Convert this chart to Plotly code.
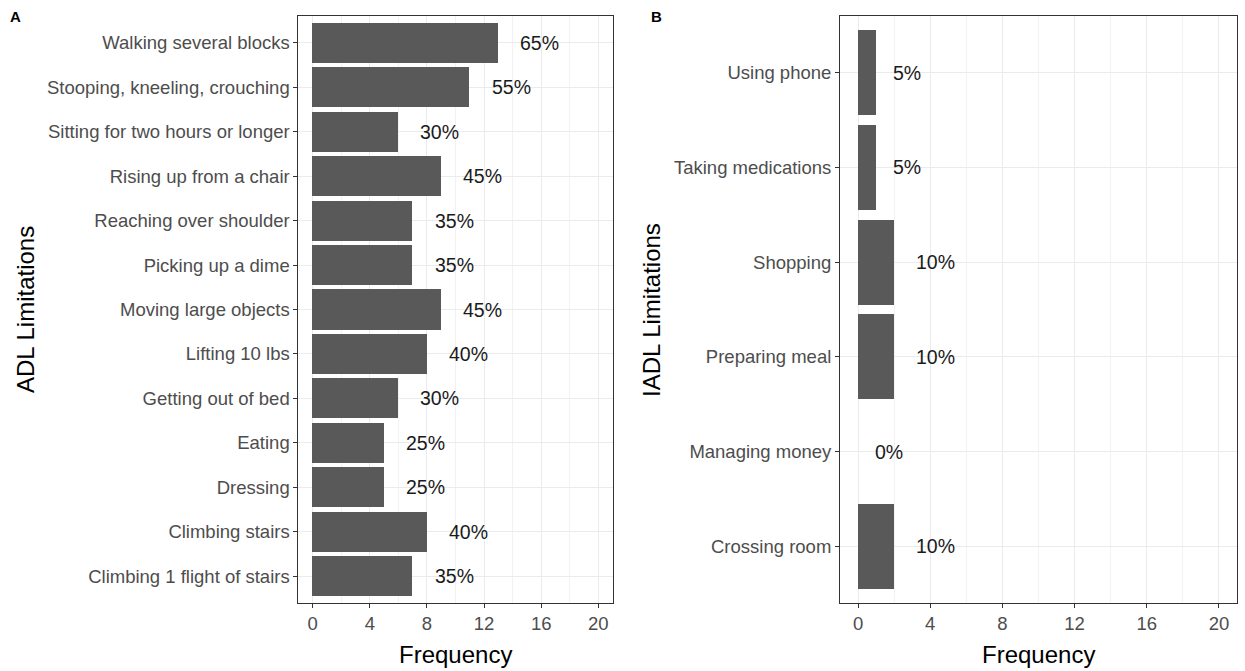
import plotly.graph_objects as go

W, H = 1245, 671

adl_categories = [
    "Climbing 1 flight of stairs", "Climbing stairs", "Dressing", "Eating",
    "Getting out of bed", "Lifting 10 lbs", "Moving large objects",
    "Picking up a dime", "Reaching over shoulder", "Rising up from a chair",
    "Sitting for two hours or longer", "Stooping, kneeling, crouching",
    "Walking several blocks",
]
adl_values = [7, 8, 5, 5, 6, 8, 9, 7, 7, 9, 6, 11, 13]

iadl_categories = [
    "Crossing room", "Managing money", "Preparing meal", "Shopping",
    "Taking medications", "Using phone",
]
iadl_values = [2, 0, 2, 2, 1, 1]

total_n = 20
x_ticks = [0, 4, 8, 12, 16, 20]

FONT = "Liberation Sans, Arial, sans-serif"
BAR = "#595959"
GRID = "#ebebeb"
BORDER = "#333333"

def xd(a, b):
    return [a / W, b / W]

def yd(top, bottom):
    return [1 - bottom / H, 1 - top / H]

fig = go.Figure()
fig.add_trace(go.Bar(x=adl_values, y=adl_categories, orientation="h",
                     marker=dict(color=BAR, line=dict(width=0)), width=0.9,
                     xaxis="x", yaxis="y", hoverinfo="x+y"))
fig.add_trace(go.Bar(x=iadl_values, y=iadl_categories, orientation="h",
                     marker=dict(color=BAR, line=dict(width=0)), width=0.9,
                     xaxis="x2", yaxis="y2", hoverinfo="x+y"))

annotations = []
for cats, vals, xr, yr in [(adl_categories, adl_values, "x", "y"),
                           (iadl_categories, iadl_values, "x2", "y2")]:
    for c, v in zip(cats, vals):
        txt = f"{round(v / total_n * 100)}%"
        shift = 20 if len(txt) >= 3 else 15
        annotations.append(dict(x=v, y=c, xref=xr, yref=yr, text=txt,
                                showarrow=False, xanchor="left", yanchor="middle",
                                xshift=shift, font=dict(family=FONT, size=19.5, color="#1a1a1a")))

TICKFONT = dict(family=FONT, size=18.5, color="#4d4d4d")

def xaxis_common(domain, anchor):
    return dict(domain=domain, anchor=anchor, range=[-1, 21],
                tickmode="array", tickvals=x_ticks, ticktext=[str(t) for t in x_ticks],
                showgrid=True, gridcolor=GRID, gridwidth=1,
                minor=dict(tickmode="array", tickvals=[2, 6, 10, 14, 18], showgrid=True,
                           gridcolor="#f2f2f2", gridwidth=0.6, ticks=""),
                zeroline=False, showline=True, linecolor=BORDER, linewidth=1, mirror=True,
                ticks="outside", ticklen=4, tickcolor=BORDER, tickwidth=1,
                tickfont=TICKFONT)

def yaxis_common(domain, anchor, cats):
    return dict(domain=domain, anchor=anchor, type="category",
                categoryorder="array", categoryarray=cats,
                range=[-0.6, len(cats) - 0.4],
                showgrid=True, gridcolor=GRID, gridwidth=1,
                zeroline=False, showline=True, linecolor=BORDER, linewidth=1, mirror=True,
                ticks="outside", ticklen=4, tickcolor=BORDER, tickwidth=1,
                tickfont=TICKFONT)

fig.update_layout(
    width=W, height=H, margin=dict(l=0, r=0, t=0, b=0),
    paper_bgcolor="white", plot_bgcolor="white", showlegend=False, bargap=0,
    xaxis=xaxis_common(xd(298.4, 612.6), "y"),
    yaxis=yaxis_common(yd(16, 603), "x", adl_categories),
    xaxis2=xaxis_common(xd(840, 1237), "y2"),
    yaxis2=yaxis_common(yd(16, 603), "x2", iadl_categories),
)

title_font = dict(family=FONT, size=24, color="black")
annotations += [
    dict(text="Frequency", x=455.5 / W, y=1 - 654 / H, xref="paper", yref="paper",
         showarrow=False, xanchor="center", yanchor="middle", font=title_font),
    dict(text="Frequency", x=1038.5 / W, y=1 - 654 / H, xref="paper", yref="paper",
         showarrow=False, xanchor="center", yanchor="middle", font=title_font),
    dict(text="ADL Limitations", x=25 / W, y=1 - 310 / H, xref="paper", yref="paper",
         showarrow=False, xanchor="center", yanchor="middle", textangle=-90, font=title_font),
    dict(text="IADL Limitations", x=651 / W, y=1 - 310 / H, xref="paper", yref="paper",
         showarrow=False, xanchor="center", yanchor="middle", textangle=-90, font=title_font),
    dict(text="<b>A</b>", x=15 / W, y=1 - 17 / H, xref="paper", yref="paper",
         showarrow=False, xanchor="center", yanchor="middle",
         font=dict(family=FONT, size=15, color="black")),
    dict(text="<b>B</b>", x=656 / W, y=1 - 17 / H, xref="paper", yref="paper",
         showarrow=False, xanchor="center", yanchor="middle",
         font=dict(family=FONT, size=15, color="black")),
]
fig.update_layout(annotations=annotations)

fig.write_html("out.html")
